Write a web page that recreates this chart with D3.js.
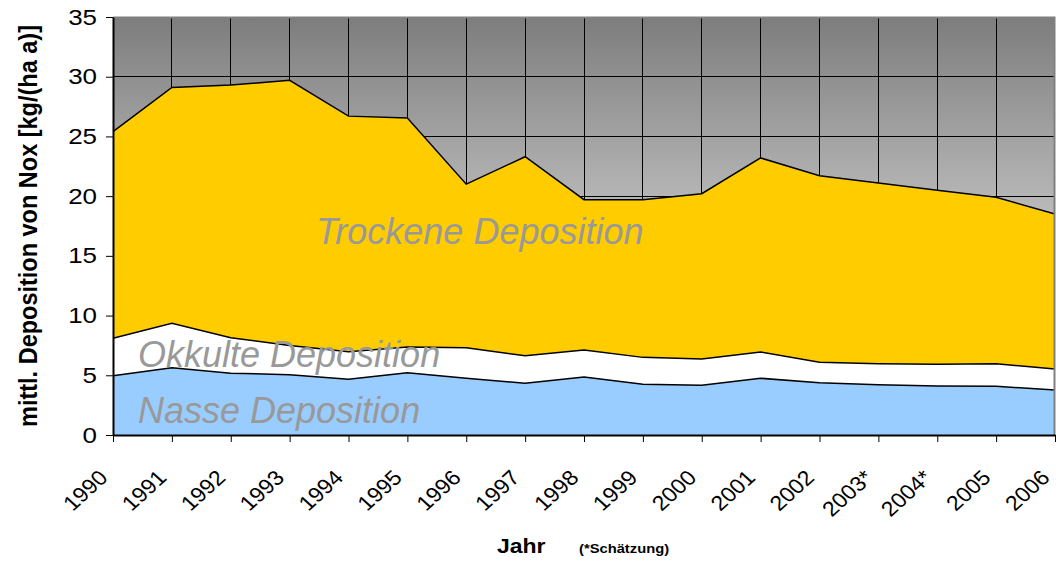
<!DOCTYPE html>
<html>
<head>
<meta charset="utf-8">
<script src="https://cdn.jsdelivr.net/npm/d3@7"></script>
<style>
  body { margin: 0; background: #fff; }
  text { font-family: "Liberation Sans", Arial, sans-serif; }
</style>
</head>
<body>
<div id="chart"></div>
<script>
// data
var years = ["1990", "1991", "1992", "1993", "1994", "1995", "1996", "1997", "1998",
  "1999", "2000", "2001", "2002", "2003*", "2004*", "2005", "2006"];
var nasse = [4.97, 5.64, 5.17, 5.05, 4.66, 5.22, 4.75, 4.33, 4.86, 4.24, 4.16, 4.75, 4.38, 4.21, 4.10, 4.08, 3.77];
var okkulte = [3.13, 3.71, 2.98, 2.45, 2.32, 2.15, 2.55, 2.31, 2.26, 2.26, 2.21, 2.20, 1.71, 1.76, 1.82, 1.89, 1.76];
var trockene = [17.30, 19.75, 21.15, 22.20, 19.72, 19.18, 13.70, 16.66, 12.58, 13.20, 13.83, 16.25, 15.61, 15.13, 14.58, 13.93, 12.97];
var seriesNames = ["Nasse Deposition", "Okkulte Deposition", "Trockene Deposition"];
var seriesColors = ["#99CCFF", "#FFFFFF", "#FFCC00"];
var yTicks = [0, 5, 10, 15, 20, 25, 30, 35];

var svgWidth = 1056;
var svgHeight = 563;
var margin = { top: 17, right: 1, bottom: 128, left: 113 };
var width = svgWidth - margin.left - margin.right;
var height = svgHeight - margin.top - margin.bottom;

var svg = d3.select("#chart")
  .append("svg")
  .attr("width", svgWidth)
  .attr("height", svgHeight);

// background gradient of plot area
var grad = svg.append("defs").append("linearGradient")
  .attr("id", "bg")
  .attr("x1", 0).attr("y1", 0).attr("x2", 0).attr("y2", 1);
grad.append("stop").attr("offset", "0%").attr("stop-color", "#7d7d7d");
grad.append("stop").attr("offset", "100%").attr("stop-color", "#ffffff");

var chartGroup = svg.append("g")
  .attr("transform", `translate(${margin.left}, ${margin.top})`);

var table = years.map((y, i) => ({ year: y, nasse: nasse[i], okkulte: okkulte[i], trockene: trockene[i] }));

var x = d3.scalePoint().domain(years).range([0, width]);
var y = d3.scaleLinear().domain([0, 35]).range([height, 0]);

chartGroup.append("rect")
  .attr("width", width)
  .attr("height", height)
  .attr("fill", "url(#bg)");

// gridlines
chartGroup.append("g")
  .selectAll("line.h")
  .data(yTicks.slice(1, -1))
  .enter()
  .append("line")
  .attr("x1", 0).attr("x2", width)
  .attr("y1", d => y(d)).attr("y2", d => y(d))
  .attr("stroke", "#000").attr("stroke-width", 1)
  .attr("shape-rendering", "crispEdges");

chartGroup.append("g")
  .selectAll("line.v")
  .data(years.slice(1, -1))
  .enter()
  .append("line")
  .attr("x1", d => x(d)).attr("x2", d => x(d))
  .attr("y1", 0).attr("y2", height)
  .attr("stroke", "#000").attr("stroke-width", 1)
  .attr("shape-rendering", "crispEdges");

// stacked areas
var stack = d3.stack().keys(["nasse", "okkulte", "trockene"]);
var layers = stack(table);

var area = d3.area()
  .x(d => x(d.data.year))
  .y0(d => y(d[0]))
  .y1(d => y(d[1]));

var line = d3.line()
  .x(d => x(d.data.year))
  .y(d => y(d[1]));

chartGroup.selectAll("path.area")
  .data(layers)
  .enter()
  .append("path")
  .attr("d", area)
  .attr("fill", (d, i) => seriesColors[i]);

chartGroup.selectAll("path.edge")
  .data(layers)
  .enter()
  .append("path")
  .attr("d", line)
  .attr("fill", "none")
  .attr("stroke", "#000")
  .attr("stroke-width", 1.5);

// plot border (top/right)
chartGroup.append("path")
  .attr("d", `M0,0.5H${width - 0.5}V${height}`)
  .attr("fill", "none")
  .attr("stroke", "#808080")
  .attr("stroke-width", 2);

// axes
var leftAxis = d3.axisLeft(y).tickValues(yTicks).tickSizeInner(7).tickSizeOuter(0).tickPadding(8);
var bottomAxis = d3.axisBottom(x).tickSizeInner(7).tickSizeOuter(0).tickFormat("");

var yAxisG = chartGroup.append("g").call(leftAxis);
yAxisG.select(".domain").attr("stroke", "#000").attr("stroke-width", 2);
yAxisG.selectAll("text")
  .attr("font-size", "22px")
  .attr("fill", "#000")
  .attr("x", 0)
  .attr("transform", "translate(-16, 0) scale(1.18, 1)");

var xAxisG = chartGroup.append("g")
  .attr("transform", `translate(0, ${height})`)
  .call(bottomAxis);
xAxisG.select(".domain").attr("stroke", "#000").attr("stroke-width", 2);

// rotated year labels
chartGroup.append("g")
  .selectAll("text")
  .data(years)
  .enter()
  .append("text")
  .attr("transform", d => `translate(${x(d) - 4}, ${height + 44}) scale(1.1, 1) rotate(-45)`)
  .attr("text-anchor", "end")
  .attr("font-size", "21px")
  .attr("fill", "#000")
  .text(d => d);

// series labels
var labelPos = [[138, 406], [138, 350], [316, 227]];
chartGroup.selectAll("text.series")
  .data(seriesNames)
  .enter()
  .append("text")
  .attr("x", (d, i) => labelPos[i][0] - margin.left)
  .attr("y", (d, i) => labelPos[i][1])
  .attr("font-size", "36px")
  .attr("font-style", "italic")
  .attr("fill", "#999999")
  .text(d => d);

// axis titles
svg.append("text")
  .attr("transform", "translate(37, 226) scale(1.12, 1) rotate(-90)")
  .attr("text-anchor", "middle")
  .attr("font-size", "23.5px")
  .attr("font-weight", "bold")
  .text("mittl. Deposition von Nox [kg/(ha a)]");

svg.append("text")
  .attr("transform", "translate(497, 553) scale(1.15, 1)")
  .attr("font-size", "20px")
  .attr("font-weight", "bold")
  .text("Jahr");

svg.append("text")
  .attr("transform", "translate(579, 553) scale(1.18, 1)")
  .attr("font-size", "12.5px")
  .attr("font-weight", "bold")
  .text("(*Schätzung)");
</script>
</body>
</html>
